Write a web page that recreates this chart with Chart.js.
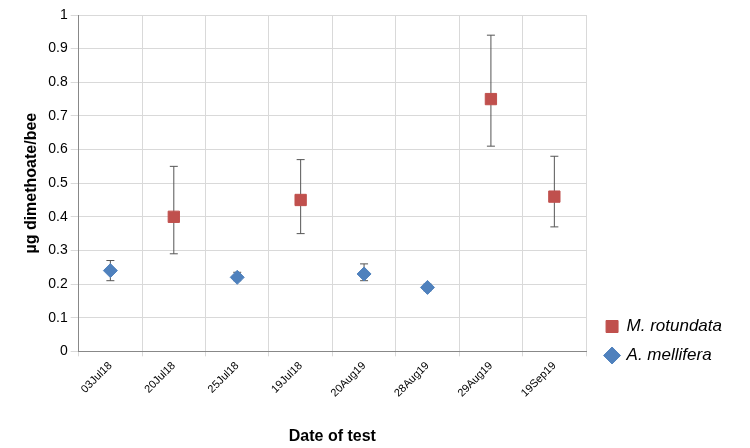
<!DOCTYPE html>
<html>
<head>
<script src="https://cdn.jsdelivr.net/npm/chart.js@4"></script>
<style>
  body { margin: 0; background: #fff; }
  #wrap { width: 750px; height: 448px; }
</style>
</head>
<body>
<div id="wrap"><canvas id="myChart"></canvas></div>
<script>
const categories = ['03Jul18', '20Jul18', '25Jul18', '19Jul18', '20Aug19', '28Aug19', '29Aug19', '19Sep19'];
const rotundata = [null, 0.40, null, 0.45, null, null, 0.75, 0.46];
const rotundataLow = [null, 0.29, null, 0.35, null, null, 0.61, 0.37];
const rotundataHigh = [null, 0.55, null, 0.57, null, null, 0.94, 0.58];
const mellifera = [0.24, null, 0.22, null, 0.23, 0.19, null, null];
const melliferaLow = [0.21, null, 0.21, null, 0.21, 0.18, null, null];
const melliferaHigh = [0.27, null, 0.235, null, 0.26, 0.20, null, null];

const errorBars = {
  id: 'errorBars',
  beforeDatasetsDraw(chart) {
    const { ctx, scales: { x, y } } = chart;
    const sets = [[rotundataLow, rotundataHigh], [melliferaLow, melliferaHigh]];
    ctx.save();
    ctx.strokeStyle = '#555';
    ctx.lineWidth = 1;
    sets.forEach(([lo, hi]) => {
      lo.forEach((v, i) => {
        if (v === null) return;
        const px = x.getPixelForValue(i);
        const y1 = y.getPixelForValue(v), y2 = y.getPixelForValue(hi[i]);
        ctx.beginPath();
        ctx.moveTo(px, y1); ctx.lineTo(px, y2);
        ctx.moveTo(px - 4, y1); ctx.lineTo(px + 4, y1);
        ctx.moveTo(px - 4, y2); ctx.lineTo(px + 4, y2);
        ctx.stroke();
      });
    });
    ctx.restore();
  }
};

new Chart(document.getElementById('myChart'), {
  type: 'line',
  data: {
    labels: categories,
    datasets: [
      { label: 'M. rotundata', data: rotundata, showLine: false, pointStyle: 'rect',
        pointRadius: 8, pointHoverRadius: 8, backgroundColor: '#C0504D', borderColor: '#C0504D' },
      { label: 'A. mellifera', data: mellifera, showLine: false, pointStyle: 'rectRot',
        pointRadius: 7, pointHoverRadius: 7, backgroundColor: '#4F81BD', borderColor: '#4F81BD' }
    ]
  },
  options: {
    animation: false,
    responsive: true,
    maintainAspectRatio: false,
    layout: { padding: { top: 15, right: 2, left: 18, bottom: 2 } },
    plugins: {
      legend: {
        position: 'right',
        align: 'end',
        labels: {
          usePointStyle: true, boxWidth: 12, boxHeight: 12, padding: 12,
          color: '#000', font: { family: 'Liberation Sans', size: 17, style: 'italic' }
        }
      },
      tooltip: { enabled: false }
    },
    scales: {
      x: {
        offset: true,
        afterFit(scale) { scale.height += 4; },
        grid: { offset: true, color: '#d9d9d9', drawTicks: true, tickLength: 5 },
        border: { color: '#888' },
        ticks: { color: '#000', maxRotation: 45, minRotation: 45, font: { family: 'Liberation Sans', size: 11 } },
        title: { display: true, text: 'Date of test', color: '#000', padding: { top: 20, bottom: 0 },
          font: { family: 'Liberation Sans', size: 16, weight: 'bold' } }
      },
      y: {
        min: 0, max: 1,
        ticks: { stepSize: 0.1, color: '#000', font: { family: 'Liberation Sans', size: 14 },
          callback: v => Math.round(v * 10) / 10 },
        grid: { color: '#d9d9d9' },
        border: { color: '#888' },
        title: { display: true, text: 'µg dimethoate/bee', color: '#000', font: { family: 'Liberation Sans', size: 16, weight: 'bold' } }
      }
    }
  },
  plugins: [errorBars, {
    id: 'legendPlace',
    beforeInit(chart) {
      const legend = chart.legend;
      const fit = legend.fit;
      legend.fit = function () { fit.call(this); this.width += 24; };
      const draw = legend.draw;
      // lift the legend up beside the lower part of the plot, like the original
      legend.draw = function () {
        const ctx = this.ctx;
        ctx.save();
        ctx.translate(8, -70);
        draw.call(this);
        ctx.restore();
      };
    }
  }]
});
</script>
</body>
</html>
